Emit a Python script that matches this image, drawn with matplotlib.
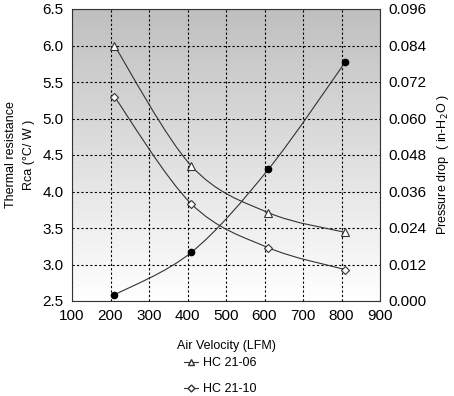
import numpy as np
import matplotlib
matplotlib.use("Agg")
import matplotlib.pyplot as plt
from matplotlib.path import Path
from matplotlib.patches import PathPatch
from matplotlib.lines import Line2D

plt.rcParams['font.family'] = ['Liberation Sans', 'DejaVu Sans']

velocity = [210, 410, 610, 810]
hc2106 = [6.00, 4.35, 3.71, 3.44]
hc2110 = [5.30, 3.83, 3.23, 2.93]
pressure = [0.002, 0.016, 0.0433, 0.0786]

x_ticks = [100, 200, 300, 400, 500, 600, 700, 800, 900]
y_ticks = [2.5, 3.0, 3.5, 4.0, 4.5, 5.0, 5.5, 6.0, 6.5]
y2_ticks = [0.000, 0.012, 0.024, 0.036, 0.048, 0.060, 0.072, 0.084, 0.096]


def smooth_path(xs, ys, tension=1/6):
    xs = np.asarray(xs, float); ys = np.asarray(ys, float)
    pts = np.column_stack([xs, ys])
    n = len(pts)
    verts = [pts[0]]
    codes = [Path.MOVETO]
    for i in range(n - 1):
        p0 = pts[i - 1] if i > 0 else pts[i]
        p1 = pts[i]
        p2 = pts[i + 1]
        p3 = pts[i + 2] if i + 2 < n else pts[i + 1]
        c1 = p1 + (p2 - p0) * tension
        c2 = p2 - (p3 - p1) * tension
        verts += [c1, c2, p2]
        codes += [Path.CURVE4] * 3
    return Path(verts, codes)


fig = plt.figure(figsize=(4.54, 3.96), dpi=100)
ax = fig.add_axes([72/454, 1 - 301/396, 308/454, 292/396])
ax.set_xlim(100, 900)
ax.set_ylim(2.5, 6.5)

# gradient background
grad = np.linspace(1, 0, 256).reshape(-1, 1)
top = np.array([0.75, 0.75, 0.75]); bot = np.array([1.0, 1.0, 1.0])
img = (bot[None, None, :] * (1 - grad[..., None]) + top[None, None, :] * grad[..., None])
ax.imshow(img, extent=[0, 1, 0, 1], transform=ax.transAxes, aspect='auto', zorder=0)

ax.set_xticks(x_ticks)
ax.set_yticks(y_ticks)
ax.set_yticklabels([f"{v:.1f}" for v in y_ticks])
ax.grid(True, color='black', linestyle=(0, (2, 2)), linewidth=0.8, zorder=1)
ax.tick_params(length=0, labelsize=11, pad=6)
for s in ax.spines.values():
    s.set_linewidth(0.8)
    s.set_color('#333333')

ax.add_patch(PathPatch(smooth_path(velocity, hc2106), fill=False, lw=0.8, color='#333333', zorder=3))
ax.add_patch(PathPatch(smooth_path(velocity, hc2110), fill=False, lw=0.8, color='#333333', zorder=3))
ax.plot(velocity, hc2106, linestyle='none', marker='^', ms=6, mfc='white', mec='#333333', mew=0.8, zorder=4)
ax.plot(velocity, hc2110, linestyle='none', marker='D', ms=4, mfc='white', mec='#333333', mew=0.8, zorder=4)

ax2 = ax.twinx()
ax2.set_ylim(0, 0.096)
ax2.set_yticks(y2_ticks)
ax2.set_yticklabels([f"{v:.3f}" for v in y2_ticks])
ax2.tick_params(length=0, labelsize=11, pad=6)
for s in ax2.spines.values():
    s.set_visible(False)
ax2.add_patch(PathPatch(smooth_path(velocity, pressure), fill=False, lw=0.8, color='#333333', zorder=3))
ax2.plot(velocity, pressure, linestyle='none', marker='o', ms=4.5, mfc='black', mec='black', zorder=4)

ax.set_xlabel('Air Velocity (LFM)', fontsize=9, labelpad=12)
fig.text(11/454, 1 - 155/396, 'Thermal resistance', rotation=90, ha='center', va='center', fontsize=9)
fig.text(29/454, 1 - 155/396, 'Rca (°C/ W )', rotation=90, ha='center', va='center', fontsize=9)
fig.text(443/454, 1 - 165/396, 'Pressure drop  ( in-H$_2$O )', rotation=90, ha='center', va='center', fontsize=9)

handles = [Line2D([0], [0], color='#333333', lw=0.8, marker='^', ms=5, mfc='white', mec='#333333'),
           Line2D([0], [0], color='#333333', lw=0.8, marker='D', ms=3.5, mfc='white', mec='#333333')]
fig.legend(handles, ['HC 21-06', 'HC 21-10'], loc='center', bbox_to_anchor=(220/454, 1 - 376/396),
           frameon=False, fontsize=9, handlelength=1.1, handletextpad=0.4, labelspacing=1.1)

fig.savefig('out.png', dpi=100)
